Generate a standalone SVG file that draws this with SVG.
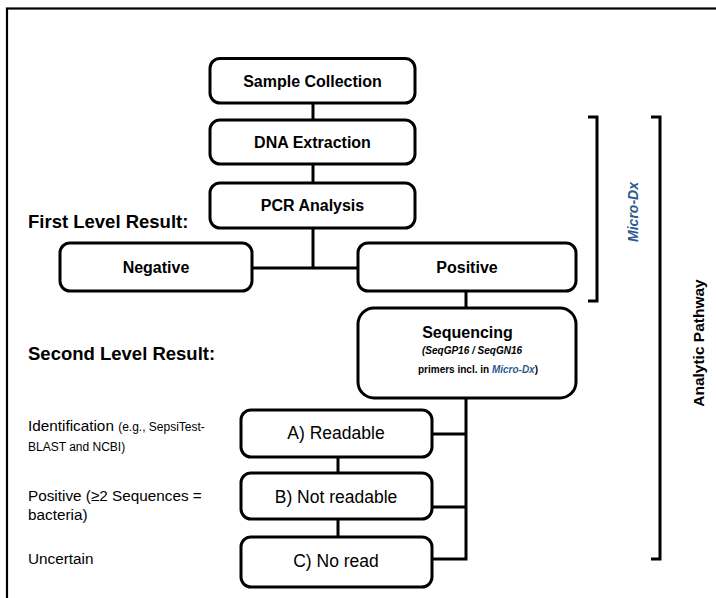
<svg xmlns="http://www.w3.org/2000/svg" width="716" height="598" viewBox="0 0 716 598">
<style>
  .box { fill: #ffffff; stroke: #000000; stroke-width: 3; }
  .conn { fill: none; stroke: #000000; stroke-width: 3; }
  .frame { fill: none; stroke: #000000; stroke-width: 2.2; }
  .bt { font-family: "Liberation Sans", Arial, sans-serif; font-weight: bold; font-size: 16px; fill: #000; text-anchor: middle; }
  .rt { font-family: "Liberation Sans", Arial, sans-serif; font-size: 17.5px; fill: #000; text-anchor: middle; }
  .head { font-family: "Liberation Sans", Arial, sans-serif; font-weight: bold; font-size: 18.5px; fill: #000; }
  .lab { font-family: "Liberation Sans", Arial, sans-serif; font-size: 15.3px; fill: #000; }
  .small { font-size: 12px; }
  .sub { font-family: "Liberation Sans", Arial, sans-serif; font-weight: bold; font-size: 10px; fill: #000; text-anchor: middle; }
  .blue { fill: #2E5A8C; }
</style>
<rect width="716" height="598" fill="#ffffff"/>
<rect class="frame" x="7" y="8.5" width="760" height="660"/>

<g id="connectors">
  <line class="conn" x1="313" y1="103" x2="313" y2="120"/>
  <line class="conn" x1="313" y1="164" x2="313" y2="183"/>
  <line class="conn" x1="313" y1="228" x2="313" y2="268"/>
  <line class="conn" x1="252" y1="268" x2="358" y2="268"/>
  <line class="conn" x1="466" y1="291" x2="466" y2="308"/>
  <polyline class="conn" points="466,398 466,559 432,559"/>
  <line class="conn" x1="432" y1="434" x2="466" y2="434"/>
  <line class="conn" x1="432" y1="507" x2="466" y2="507"/>
  <line class="conn" x1="338" y1="457" x2="338" y2="473"/>
  <line class="conn" x1="338" y1="519" x2="338" y2="537"/>
  <polyline class="conn" points="588,117 597,117 597,301 588,301"/>
  <polyline class="conn" points="651,117 660,117 660,559 651,559"/>
</g>

<g id="sample-collection">
  <rect class="box" x="210" y="58.5" width="205" height="44.5" rx="10"/>
  <text class="bt" x="312.5" y="87">Sample Collection</text>
</g>
<g id="dna-extraction">
  <rect class="box" x="210" y="120" width="205" height="44" rx="10"/>
  <text class="bt" x="312.5" y="148">DNA Extraction</text>
</g>
<g id="pcr-analysis">
  <rect class="box" x="210" y="183" width="205" height="45" rx="10"/>
  <text class="bt" x="312.5" y="211">PCR Analysis</text>
</g>
<g id="negative">
  <rect class="box" x="60" y="243" width="192" height="48" rx="10"/>
  <text class="bt" x="156" y="273">Negative</text>
</g>
<g id="positive">
  <rect class="box" x="358" y="243" width="218" height="48" rx="10"/>
  <text class="bt" x="467" y="273">Positive</text>
</g>
<g id="sequencing">
  <rect class="box" x="358" y="308" width="218" height="90" rx="16"/>
  <text class="bt" x="467.5" y="338">Sequencing</text>
  <text class="sub" x="472" y="354" font-style="italic" font-size="9.3">(SeqGP16 / SeqGN16</text>
  <text class="sub" x="478" y="373">primers incl. in <tspan class="blue" font-style="italic">Micro-Dx</tspan>)</text>
</g>
<g id="readable">
  <rect class="box" x="241" y="410" width="191" height="47" rx="10"/>
  <text class="rt" x="336" y="439">A) Readable</text>
</g>
<g id="not-readable">
  <rect class="box" x="241" y="473" width="191" height="46" rx="10"/>
  <text class="rt" x="336" y="503">B) Not readable</text>
</g>
<g id="no-read">
  <rect class="box" x="241" y="537" width="191" height="50" rx="10"/>
  <text class="rt" x="336" y="567">C) No read</text>
</g>

<g id="labels">
  <text class="head" x="28" y="228">First Level Result:</text>
  <text class="head" x="28" y="360">Second Level Result:</text>
  <text class="lab" x="28" y="431">Identification <tspan class="small">(e.g., SepsiTest-</tspan></text>
  <text class="lab small" x="28" y="451">BLAST and NCBI)</text>
  <text class="lab" x="28" y="501">Positive (≥2 Sequences =</text>
  <text class="lab" x="28" y="520">bacteria)</text>
  <text class="lab" x="28" y="564">Uncertain</text>
  <text transform="translate(638,212) rotate(-90)" font-family="Liberation Sans, Arial, sans-serif" font-weight="bold" font-style="italic" font-size="14" fill="#2E5A8C" text-anchor="middle">Micro-Dx</text>
  <text transform="translate(704,343) rotate(-90)" font-family="Liberation Sans, Arial, sans-serif" font-weight="bold" font-size="15.5" fill="#000" text-anchor="middle">Analytic Pathway</text>
</g>
</svg>
